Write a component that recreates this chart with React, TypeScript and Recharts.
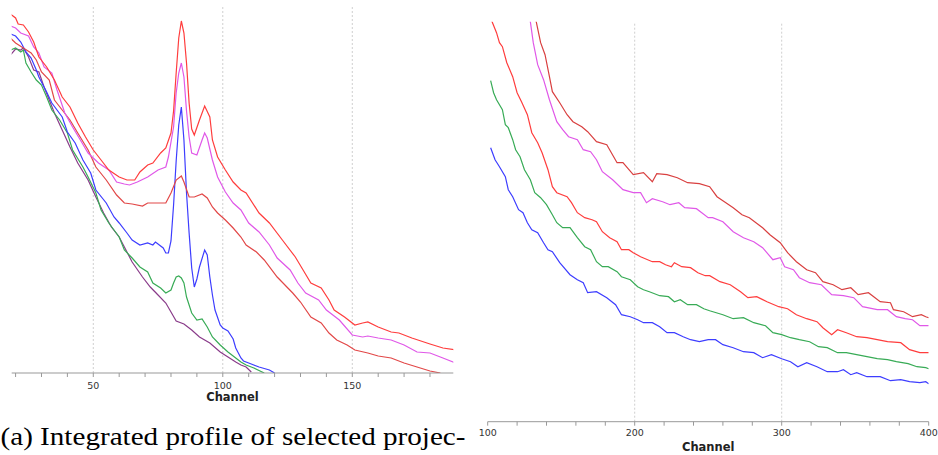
import React from 'react';
import { LineChart, Line, XAxis, YAxis, ReferenceLine } from 'recharts';

// ---------- Left panel: channel vs integrated intensity (arbitrary units) ----------
const leftTicks = [20, 30, 40, 50, 60, 70, 80, 90, 100, 110, 120, 130, 140, 150, 160, 170, 180];
const leftGrid = [50, 100, 150];

const leftRedTop = [[18,359],[20,355],[21,349],[23,348],[25,341],[27,331],[29,316],[32,306],[35,293],[38,276],[41,266],[44,250],[47,236],[50,223],[53,213],[56,203],[60,196],[63,193],[66,193],[68,201],[71,208],[73,210],[76,220],[78,225],[80,240],[81,262],[82,300],[83,335],[84,352],[85,340],[86,310],[87,270],[88,244],[89,238],[91,253],[93,267],[95,256],[96,233],[98,216],[101,203],[104,191],[107,183],[109,180],[114,160],[118,150],[123,133],[128,116],[131,103],[134,90],[138,85],[141,73],[143,63],[147,56],[151,48],[154,50],[156,51],[160,46],[165,41],[168,40],[173,35],[180,29],[185,25],[190,23]];
const leftMagenta = [[18,347],[20,345],[22,340],[25,337],[27,326],[29,320],[31,306],[34,300],[36,283],[39,260],[42,246],[45,233],[48,220],[52,210],[56,203],[59,191],[62,189],[64,188],[67,191],[71,196],[75,203],[78,206],[79,216],[81,246],[82,280],[83,300],[84,310],[85,296],[86,262],[87,236],[88,220],[90,218],[92,233],[93,240],[94,235],[96,213],[98,196],[101,181],[104,170],[107,163],[110,150],[114,141],[118,128],[121,115],[126,103],[129,90],[132,80],[137,73],[140,63],[145,53],[150,38],[154,36],[156,37],[160,35],[165,33],[170,28],[175,21],[180,20],[185,15],[190,10]];
const leftRedLow = [[18,335],[20,330],[23,325],[26,320],[28,313],[30,301],[33,293],[35,273],[38,263],[41,253],[44,240],[48,223],[51,206],[55,193],[59,178],[62,170],[65,169],[69,167],[71,170],[75,170],[78,170],[80,180],[82,193],[84,197],[85,191],[87,176],[89,176],[92,179],[94,175],[96,166],[98,160],[101,153],[104,145],[107,136],[109,128],[113,121],[116,113],[121,96],[127,80],[130,71],[134,56],[138,50],[141,40],[144,33],[148,28],[151,23],[156,20],[160,17],[165,15],[170,10],[175,6],[180,2],[184,0]];
const leftBlue = [[18,339],[20,337],[22,331],[24,321],[26,315],[28,303],[29,296],[32,281],[34,270],[38,256],[40,241],[43,230],[46,213],[49,200],[51,183],[55,170],[58,156],[60,150],[63,140],[65,133],[68,128],[71,130],[73,128],[74,131],[77,125],[78,120],[79,120],[80,132],[81,168],[82,212],[83,248],[84,266],[85,233],[86,180],[87,140],[88,105],[89,86],[90,94],[91,106],[93,123],[94,118],[95,96],[96,78],[97,63],[99,48],[100,45],[102,42],[104,34],[105,25],[107,15],[108,12],[110,10],[114,6],[118,3],[120,0]];
const leftGreen = [[18,323],[20,325],[22,321],[23,323],[24,310],[26,301],[28,293],[30,288],[32,276],[34,263],[37,253],[40,240],[42,223],[46,206],[48,196],[51,180],[53,163],[56,150],[60,136],[62,123],[65,115],[68,106],[71,101],[73,90],[76,85],[78,80],[80,83],[81,90],[82,96],[83,97],[84,95],[85,90],[86,76],[88,60],[90,53],[92,54],[94,46],[96,36],[99,28],[102,21],[105,15],[107,11],[109,8],[112,5],[116,0]];
const leftPurple = [[18,318],[20,324],[22,323],[23,325],[25,316],[27,303],[29,301],[31,286],[33,273],[35,260],[38,243],[41,226],[44,210],[48,193],[51,176],[54,160],[57,146],[60,136],[62,126],[65,111],[69,96],[72,86],[75,78],[78,70],[80,61],[82,52],[85,49],[88,43],[91,36],[95,30],[99,21],[102,16],[105,11],[107,8],[109,6],[111,1]];

// ---------- Right panel ----------
const rightTicks = [100, 120, 140, 160, 180, 200, 220, 240, 260, 280, 300, 320, 340, 360, 380, 400];
const rightGrid = [200, 300];

const rightDarkRed = [[131,416],[133,400],[136,379],[139,367],[142,345],[144,330],[149,319],[154,307],[158,300],[164,295],[168,290],[174,280],[181,277],[188,259],[192,259],[199,247],[206,249],[212,240],[215,248],[222,247],[229,244],[236,239],[244,238],[251,235],[256,225],[261,220],[267,214],[273,207],[278,204],[287,194],[292,187],[299,179],[304,169],[310,160],[317,152],[323,149],[328,140],[335,137],[341,132],[347,134],[352,127],[359,129],[367,120],[374,119],[376,112],[383,110],[389,105],[395,107],[398,105],[400,104]];
const rightMagenta = [[127,415],[129,400],[131,379],[134,357],[138,342],[142,322],[147,300],[151,292],[155,285],[161,282],[165,272],[170,270],[174,262],[178,250],[185,242],[192,232],[199,229],[204,229],[208,219],[212,223],[219,220],[224,217],[230,219],[234,214],[242,213],[250,204],[253,204],[260,200],[267,190],[274,184],[281,180],[287,174],[294,162],[299,164],[302,155],[308,152],[312,144],[319,139],[327,137],[334,127],[342,126],[349,124],[355,115],[365,112],[372,112],[378,105],[384,103],[389,102],[394,96],[398,96],[400,96]];
const rightRed = [[102,406],[103,400],[106,389],[108,379],[110,375],[113,359],[117,345],[120,329],[123,320],[127,307],[130,289],[134,279],[137,269],[141,252],[144,235],[147,229],[154,225],[157,219],[161,209],[166,204],[171,202],[174,200],[178,190],[183,184],[188,180],[191,172],[196,172],[199,169],[204,165],[212,160],[217,160],[221,157],[225,155],[227,159],[232,155],[238,154],[243,149],[248,146],[251,146],[258,140],[265,137],[272,130],[277,124],[283,125],[290,120],[298,115],[304,113],[310,107],[317,103],[324,100],[328,94],[334,87],[338,92],[344,89],[351,85],[358,84],[365,82],[372,80],[381,79],[387,72],[394,69],[398,69],[400,69]];
const rightGreen = [[102,341],[104,329],[106,322],[110,312],[112,297],[114,294],[117,282],[119,272],[122,265],[125,252],[129,242],[132,229],[136,224],[140,217],[144,207],[147,199],[151,194],[156,194],[161,184],[166,175],[170,172],[174,160],[178,155],[182,155],[188,150],[191,145],[197,142],[202,135],[206,132],[210,130],[217,126],[223,125],[227,120],[231,122],[236,117],[242,117],[247,113],[251,111],[260,107],[267,103],[274,104],[281,99],[289,96],[294,89],[300,87],[306,84],[312,82],[319,80],[325,75],[331,74],[338,69],[344,69],[351,67],[358,65],[365,63],[372,62],[378,60],[386,58],[392,55],[398,54],[400,53]];
const rightBlue = [[102,274],[105,262],[108,255],[112,245],[114,232],[117,225],[121,212],[124,209],[127,199],[130,192],[134,189],[138,179],[141,172],[144,170],[149,159],[156,147],[161,142],[165,139],[168,129],[174,130],[181,124],[187,117],[191,107],[197,105],[202,102],[206,99],[212,99],[217,95],[222,89],[227,89],[233,85],[238,82],[244,80],[250,82],[255,82],[260,77],[267,74],[274,70],[281,69],[287,64],[293,67],[300,63],[306,60],[311,55],[317,59],[324,55],[331,50],[338,50],[342,52],[347,47],[351,49],[358,45],[367,45],[374,41],[381,42],[387,40],[394,39],[398,40],[400,38]];

const toRows = (pts: number[][]) => pts.map(([ch, v]) => ({ ch, v }));

const leftSeries = [
  { name: 'p1', pts: leftPurple, color: '#8a3c8a' },
  { name: 'p2', pts: leftGreen, color: '#38ab56' },
  { name: 'p3', pts: leftBlue, color: '#3d3dff' },
  { name: 'p4', pts: leftRedLow, color: '#e24848' },
  { name: 'p5', pts: leftMagenta, color: '#e058e8' },
  { name: 'p6', pts: leftRedTop, color: '#ff3d3d' },
];
const rightSeries = [
  { name: 'q1', pts: rightBlue, color: '#3d3dff' },
  { name: 'q2', pts: rightGreen, color: '#38ab56' },
  { name: 'q3', pts: rightRed, color: '#ff3d3d' },
  { name: 'q4', pts: rightMagenta, color: '#e058e8' },
  { name: 'q5', pts: rightDarkRed, color: '#d94040' },
];

const tickStyle = { fontSize: 9.5, fill: '#333', fontFamily: 'DejaVu Sans, sans-serif' };

export default function App() {
  return (
    <div style={{ position: 'absolute', left: 0, top: 0, width: 938, height: 455, background: '#fff', overflow: 'hidden' }}>
      <div style={{ position: 'absolute', left: 0, top: 0 }}>
        <LineChart width={470} height={410} margin={{ top: 6, right: 16.7, bottom: 0, left: 11.7 }}>
          <XAxis
            dataKey="ch"
            type="number"
            domain={[18.5, 189]}
            allowDataOverflow
            ticks={leftTicks}
            interval={0}
            tickFormatter={(t: number) => (t % 50 === 0 ? String(t) : '')}
            height={37}
            tickSize={4}
            tickMargin={4.8}
            stroke="#999"
            tick={tickStyle}
          />
          <YAxis hide type="number" domain={[0, 367]} allowDataOverflow />
          {leftGrid.map((g) => (
            <ReferenceLine key={g} x={g} stroke="#cfcfcf" strokeDasharray="2 2" />
          ))}
          {leftSeries.map((s) => (
            <Line key={s.name} data={toRows(s.pts)} dataKey="v" type="linear" stroke={s.color} strokeWidth={1.2} dot={false} isAnimationActive={false} />
          ))}
        </LineChart>
      </div>
      <div style={{ position: 'absolute', left: 470, top: 0 }}>
        <LineChart width={468} height={455} margin={{ top: 21.7, right: 9.3, bottom: 0, left: 17.7 }}>
          <XAxis
            dataKey="ch"
            type="number"
            domain={[100, 400]}
            allowDataOverflow
            ticks={rightTicks}
            interval={0}
            tickFormatter={(t: number) => (t % 100 === 0 ? String(t) : '')}
            height={33.3}
            tickSize={4}
            tickMargin={4}
            stroke="#999"
            tick={tickStyle}
          />
          <YAxis hide type="number" domain={[0, 400]} allowDataOverflow />
          {rightGrid.map((g) => (
            <ReferenceLine key={g} x={g} stroke="#cfcfcf" strokeDasharray="2 2" />
          ))}
          {rightSeries.map((s) => (
            <Line key={s.name} data={toRows(s.pts)} dataKey="v" type="linear" stroke={s.color} strokeWidth={1.2} dot={false} isAnimationActive={false} />
          ))}
        </LineChart>
      </div>
      <svg width={938} height={455} style={{ position: 'absolute', left: 0, top: 0, pointerEvents: 'none' }}>
        <text x={232.5} y={400.7} textAnchor="middle" fontSize={11.5} fontWeight="bold" fill="#222" fontFamily="DejaVu Sans, sans-serif">Channel</text>
        <text x={708.2} y={450.7} textAnchor="middle" fontSize={11.5} fontWeight="bold" fill="#222" fontFamily="DejaVu Sans, sans-serif">Channel</text>
        <text x={0.5} y={445} fontSize={26} fill="#000" fontFamily="Liberation Serif, DejaVu Serif, serif" textLength={465} lengthAdjust="spacingAndGlyphs">(a) Integrated profile of selected projec-</text>
      </svg>
    </div>
  );
}
